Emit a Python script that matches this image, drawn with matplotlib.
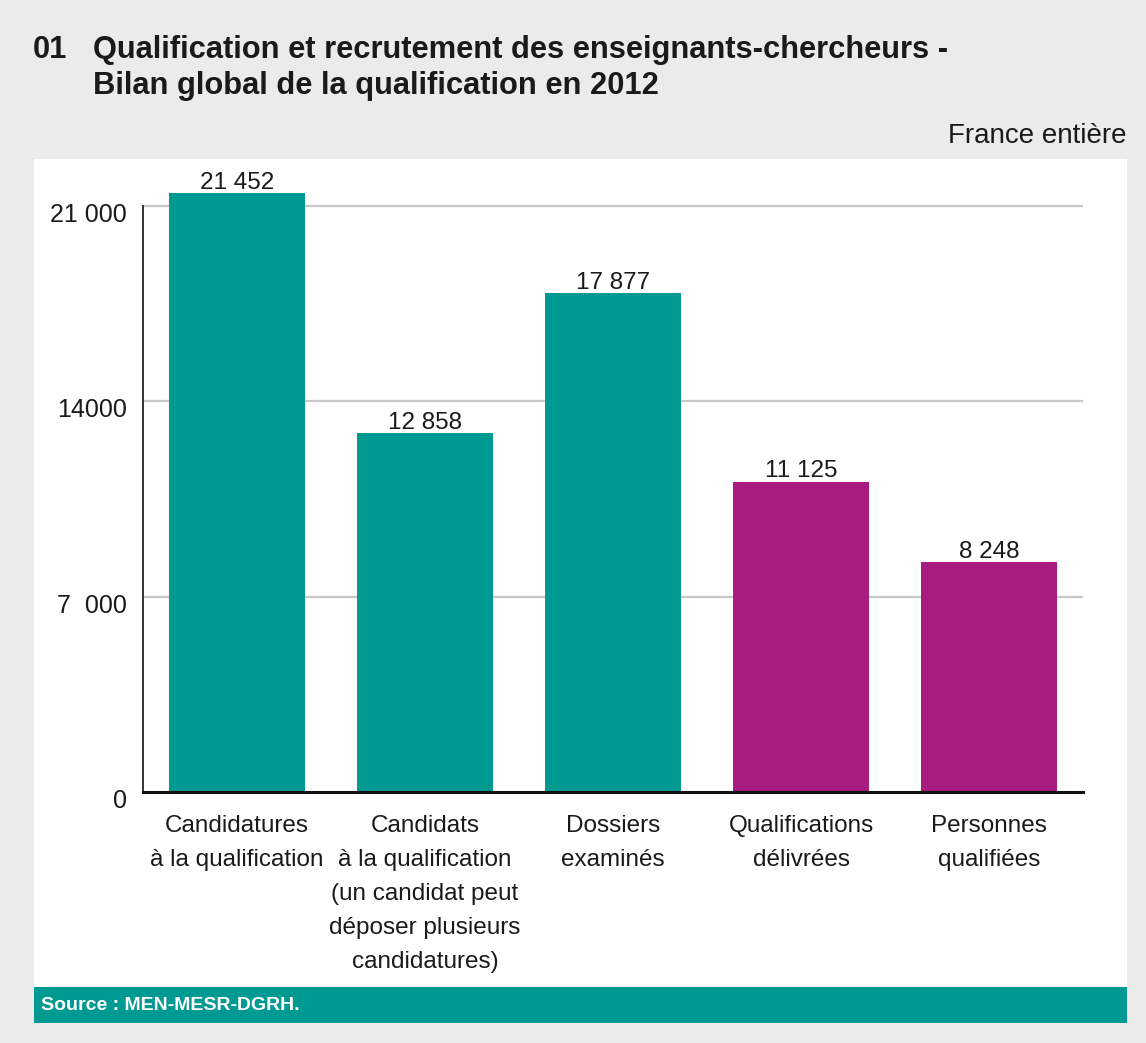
import matplotlib
matplotlib.use('Agg')
import matplotlib.pyplot as plt
from matplotlib import font_manager
from matplotlib.patches import Rectangle
import matplotlib.transforms as mtransforms

categories = [
    "Candidatures\nà la qualification",
    "Candidats\nà la qualification\n(un candidat peut\ndéposer plusieurs\ncandidatures)",
    "Dossiers\nexaminés",
    "Qualifications\ndélivrées",
    "Personnes\nqualifiées",
]
values = [21452, 12858, 17877, 11125, 8248]
value_labels = ["21 452", "12 858", "17 877", "11 125", "8 248"]
bar_colors = ["#009a93", "#009a93", "#009a93", "#a81b7f", "#a81b7f"]
yticks = [0, 7000, 14000, 21000]
ytick_labels = ["0", "7  000", "14000", "21 000"]

names = {f.name for f in font_manager.fontManager.ttflist}
FONT = ["Liberation Sans Narrow", "Liberation Sans", "DejaVu Sans"] if "Liberation Sans Narrow" in names else ["Liberation Sans", "DejaVu Sans"]
plt.rcParams['font.family'] = FONT

W, H = 1146, 1043
fig = plt.figure(figsize=(W / 100, H / 100), dpi=100)
fig.patch.set_facecolor('#ebebeb')

def fx(px):
    return px / W

def fy(py):
    return 1 - py / H

# white panel
fig.add_artist(Rectangle((fx(34), fy(987)), (1127 - 34) / W, (987 - 159) / H,
                         transform=fig.transFigure, facecolor='white', edgecolor='none', zorder=0))
# source bar
fig.add_artist(Rectangle((fx(34), fy(1023)), (1127 - 34) / W, (1023 - 987) / H,
                         transform=fig.transFigure, facecolor='#009a93', edgecolor='none', zorder=0))
fig.text(fx(41), fy(1005), "Source : MEN-MESR-DGRH.", color='white', fontsize=14,
         fontweight='bold', va='center', ha='left')

# titles
TS = 22.2
fig.text(fx(33), fy(58), "01", fontsize=TS, fontweight='bold', color='#1a1a1a', va='baseline')
fig.text(fx(93), fy(58), "Qualification et recrutement des enseignants-chercheurs -",
         fontsize=TS, fontweight='bold', color='#1a1a1a', va='baseline')
fig.text(fx(93), fy(94), "Bilan global de la qualification en 2012",
         fontsize=TS, fontweight='bold', color='#1a1a1a', va='baseline')
fig.text(fx(1126), fy(143), "France entière", fontsize=20, color='#1a1a1a', ha='right', va='baseline')

ax_top_px = 150
ax = fig.add_axes([fx(143), fy(792), (1083 - 143) / W, (792 - ax_top_px) / H])
ax.set_facecolor('none')
ymax = 21000 * (792 - ax_top_px) / (792 - 206)
ax.set_ylim(0, ymax)
ax.set_xlim(-0.5, 4.5)

x = list(range(len(values)))
ax.bar(x, values, width=0.72, color=bar_colors, zorder=3)
for xi, v, lab in zip(x, values, value_labels):
    ax.annotate(lab, (xi, v), xytext=(0, 3), textcoords='offset points',
                ha='center', va='baseline', fontsize=17.5, color='#1a1a1a')

for t in yticks[1:]:
    ax.axhline(t, color='#c8c8c8', lw=1.6, zorder=1)

for s in ['top', 'right']:
    ax.spines[s].set_visible(False)
ax.spines['left'].set_bounds(0, 21000)
ax.spines['left'].set_color('#333333')
ax.spines['left'].set_linewidth(1.4)
ax.spines['bottom'].set_color('#111111')
ax.spines['bottom'].set_linewidth(2.2)
ax.spines['bottom'].set_zorder(4)

ax.set_yticks(yticks)
ax.set_yticklabels(ytick_labels, fontsize=18, color='#1a1a1a')
ax.tick_params(axis='y', length=0, pad=11.5)
off = mtransforms.ScaledTranslation(0, -6.5 / 100, fig.dpi_scale_trans)
for lab in ax.get_yticklabels():
    lab.set_transform(lab.get_transform() + off)

ax.set_xticks(x)
ax.set_xticklabels(categories, fontsize=17.5, color='#1a1a1a', linespacing=1.7)
ax.tick_params(axis='x', length=0, pad=16.5)

fig.savefig('out.png', dpi=100, facecolor=fig.get_facecolor())
